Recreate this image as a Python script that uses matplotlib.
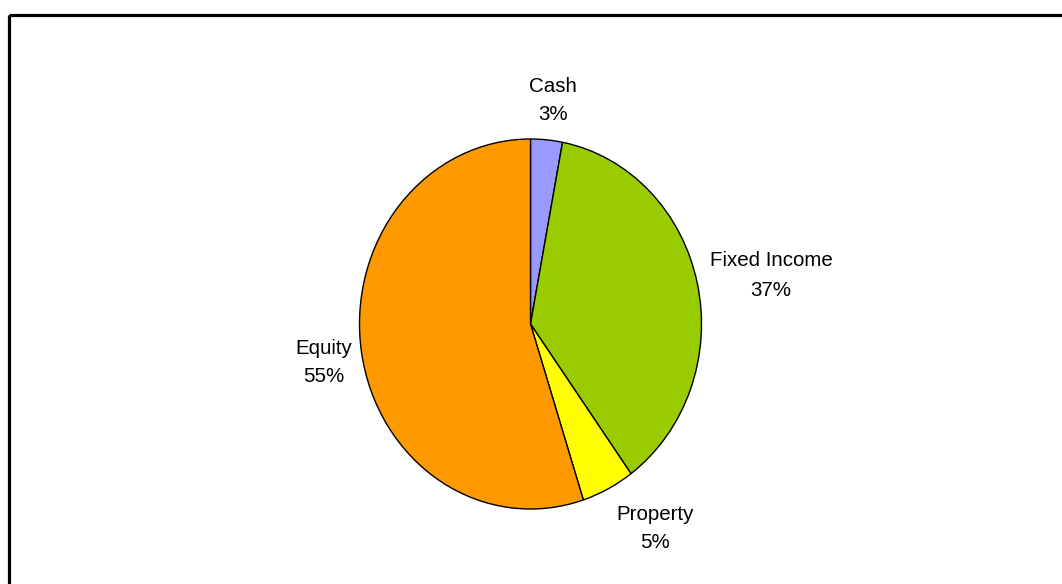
import matplotlib
matplotlib.use("Agg")
import matplotlib.pyplot as plt
from matplotlib.patches import Rectangle

categories = ["Cash", "Fixed Income", "Property", "Equity"]
values = [3, 37, 5, 55]
colors = ["#9999FF", "#99CC00", "#FFFF00", "#FF9900"]

W, H = 1062, 584
fig = plt.figure(figsize=(W / 100, H / 100), dpi=100)
fig.patch.set_facecolor("white")

# full-figure overlay axes in pixel coordinates
bg = fig.add_axes([0, 0, 1, 1])
bg.set_xlim(0, W)
bg.set_ylim(H, 0)
bg.axis("off")
bg.add_patch(Rectangle((8.5, 14.5), W + 20, H + 20, fill=False,
                       edgecolor="black", linewidth=2.3, zorder=1))

# pie axes (elliptical pie as in the reference)
left, right, top, bottom = 359.5, 701.5, 139, 509
pax = fig.add_axes([left / W, 1 - bottom / H, (right - left) / W, (bottom - top) / H])
pax.pie(values, colors=colors, startangle=90, counterclock=False,
        wedgeprops=dict(edgecolor="black", linewidth=1.0))
pax.set_aspect("auto")
pax.set_xlim(-1, 1)
pax.set_ylim(-1, 1)
pax.axis("off")

# data labels
label_pos = {
    "Cash": (553, 86, 115),
    "Fixed Income": (771, 261, 290),
    "Property": (655, 515, 543),
    "Equity": (324, 348, 376),
}
total = sum(values)
font = ["Liberation Sans", "DejaVu Sans"]
for cat, v in zip(categories, values):
    x, y1, y2 = label_pos[cat]
    bg.text(x, y1, cat, ha="center", va="center", fontsize=14.8, family=font, color="black")
    bg.text(x, y2, f"{round(100 * v / total)}%", ha="center", va="center",
            fontsize=14.8, family=font, color="black")

fig.savefig("out.png", dpi=100)
